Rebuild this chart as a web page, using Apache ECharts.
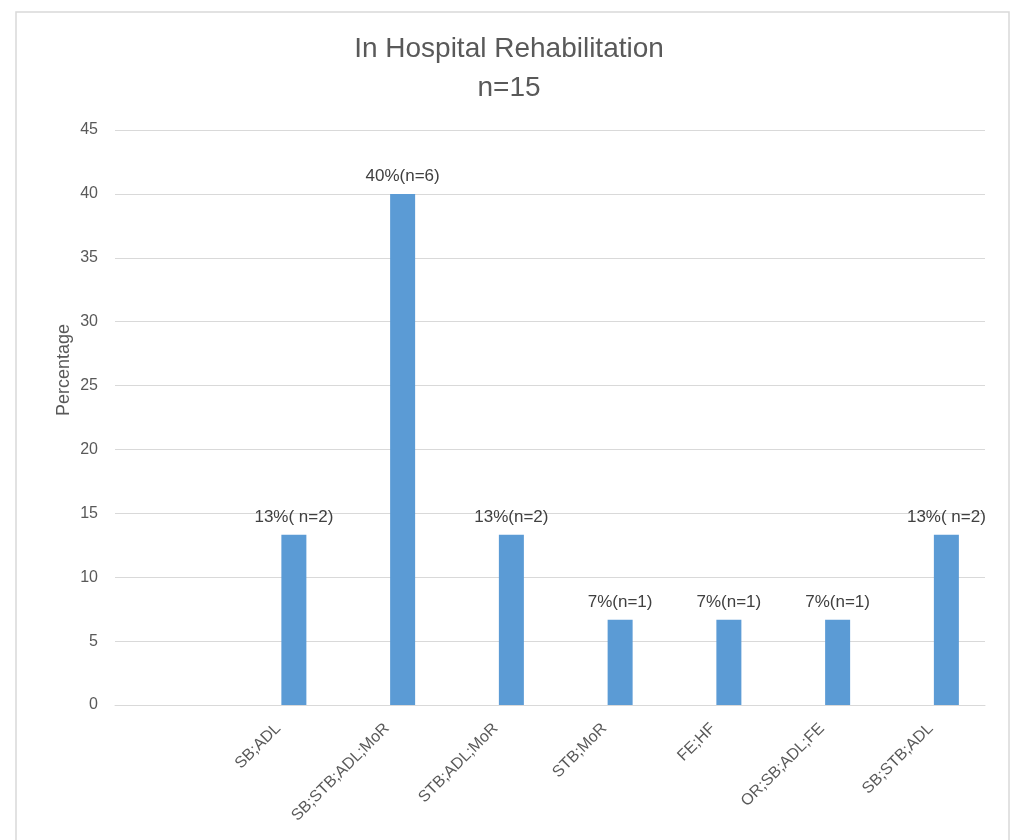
<!DOCTYPE html>
<html>
<head>
<meta charset="utf-8">
<script src="https://cdn.jsdelivr.net/npm/echarts@6/dist/echarts.min.js"></script>
<style>
  html, body { margin: 0; padding: 0; background: #ffffff; }
  #chart { width: 1018px; height: 840px; }
</style>
</head>
<body>
<div id="chart"></div>
<script>
// Rehabilitation goal combinations (first slot left blank)
const categories = ['', 'SB;ADL', 'SB;STB;ADL;MoR', 'STB;ADL;MoR', 'STB;MoR', 'FE;HF', 'OR;SB;ADL;FE', 'SB;STB;ADL'];
// Percentage of patients per combination
const percentValues = [null, 13.33, 40, 13.33, 6.67, 6.67, 6.67, 13.33];
// Empty companion series of the clustered layout
const emptySeries = [null, null, null, null, null, null, null, null];
// Text shown above each bar
const barLabels = ['', '13%( n=2)', '40%(n=6)', '13%(n=2)', '7%(n=1)', '7%(n=1)', '7%(n=1)', '13%( n=2)'];
// Value axis ticks
const yMin = 0, yMax = 45, yStep = 5;

const FONT = '"Liberation Sans", Arial, sans-serif';
const chart = echarts.init(document.getElementById('chart'), null, { renderer: 'canvas' });

chart.setOption({
  backgroundColor: '#ffffff',
  animation: false,
  title: {
    text: 'In Hospital Rehabilitation\nn=15',
    left: 'center',
    top: 25,
    textStyle: {
      fontFamily: FONT,
      fontSize: 28,
      fontWeight: 'normal',
      color: '#595959',
      lineHeight: 39
    }
  },
  graphic: [
    {
      type: 'rect',
      z: -1,
      shape: { x: 16, y: 12, width: 993, height: 840 },
      style: { fill: 'none', stroke: '#D9D9D9', lineWidth: 1.5 }
    },
    {
      type: 'text',
      x: 64,
      y: 370,
      rotation: Math.PI / 2,
      style: {
        text: 'Percentage',
        font: '18px ' + FONT,
        fill: '#595959',
        textAlign: 'center',
        textVerticalAlign: 'middle'
      }
    }
  ],
  grid: { left: 115, right: 33, top: 130, bottom: 135, containLabel: false },
  xAxis: {
    type: 'category',
    data: categories,
    axisLine: { lineStyle: { color: '#D9D9D9', width: 1 } },
    axisTick: { show: false },
    axisLabel: {
      rotate: 45,
      interval: 0,
      margin: 21,
      color: '#595959',
      fontFamily: FONT,
      fontSize: 16
    }
  },
  yAxis: {
    type: 'value',
    min: yMin,
    max: yMax,
    interval: yStep,
    axisLine: { show: false },
    axisTick: { show: false },
    splitLine: { lineStyle: { color: '#D9D9D9', width: 1 } },
    axisLabel: {
      margin: 17,
      color: '#595959',
      fontFamily: FONT,
      fontSize: 16
    }
  },
  series: [
    {
      name: 'Series1',
      type: 'bar',
      data: emptySeries,
      barWidth: 25,
      barGap: '26%',
      itemStyle: { color: '#ED7D31' }
    },
    {
      name: 'Series2',
      type: 'bar',
      data: percentValues,
      barWidth: 25,
      barGap: '26%',
      itemStyle: { color: '#5B9BD5' },
      label: {
        show: true,
        position: 'top',
        distance: 9,
        color: '#404040',
        fontFamily: FONT,
        fontSize: 17,
        formatter: function (p) { return barLabels[p.dataIndex]; }
      }
    }
  ]
});
</script>
</body>
</html>
